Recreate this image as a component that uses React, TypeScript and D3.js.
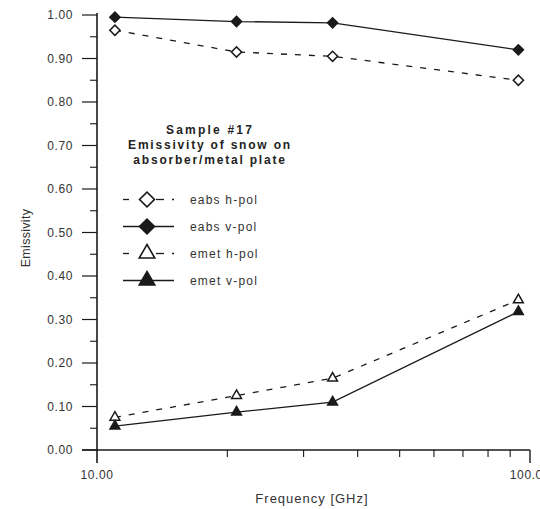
import * as d3 from "d3";

const FREQS = [11, 21, 35, 94];
const EABS_H = [0.965, 0.915, 0.905, 0.85];
const EABS_V = [0.995, 0.985, 0.982, 0.92];
const EMET_H = [0.075, 0.125, 0.165, 0.345];
const EMET_V = [0.055, 0.087, 0.11, 0.318];

const Y_TICKS = [0, 0.1, 0.2, 0.3, 0.4, 0.5, 0.6, 0.7, 0.8, 0.9, 1.0];
const Y_MINOR = [0.05, 0.15, 0.25, 0.35, 0.45, 0.55, 0.65, 0.75, 0.85, 0.95];
const X_MINOR = [20, 30, 40, 50, 60, 70, 80, 90];
const X_LABELS = [10, 100];

const TITLE = ["Sample #17", "Emissivity of snow on", "absorber/metal plate"];

const SERIES = [
  { name: "eabs h-pol", values: EABS_H, shape: "diamond", filled: false, dashed: true },
  { name: "eabs v-pol", values: EABS_V, shape: "diamond", filled: true, dashed: false },
  { name: "emet h-pol", values: EMET_H, shape: "triangle", filled: false, dashed: true },
  { name: "emet v-pol", values: EMET_V, shape: "triangle", filled: true, dashed: false },
];

const INK = "#1a1a1a";
const FONT = "'Liberation Sans', Arial, Helvetica, sans-serif";

function markerPath(shape: string, big: boolean) {
  if (shape === "diamond") {
    return d3.symbol(d3.symbolSquare, big ? 112 : 52)() as string;
  }
  return d3.symbol(d3.symbolTriangle, big ? 105 : 42)() as string;
}

export default function App() {
  const W = 540, H = 509;
  const x = d3.scaleLog().domain([10, 100]).range([97, 530]);
  const y = d3.scaleLinear().domain([0, 1]).range([450, 15]);

  const line = d3
    .line<number>()
    .x((_, i) => x(FREQS[i]))
    .y((v) => y(v));

  const legendY = d3.scaleBand<string>()
    .domain(SERIES.map((s) => s.name))
    .range([186, 294]);

  return (
    <svg
      width={W}
      height={H}
      viewBox={`0 0 ${W} ${H}`}
      style={{ position: "absolute", left: 0, top: 0, background: "#fff" }}
      fontFamily={FONT}
    >
      {/* axes */}
      <line x1={97} x2={97} y1={13} y2={463} stroke={INK} strokeWidth={1.6} />
      <line x1={82} x2={530} y1={450} y2={450} stroke={INK} strokeWidth={1.4} />
      <line x1={530} x2={530} y1={450} y2={463} stroke={INK} strokeWidth={1.4} />

      {Y_TICKS.map((t) => (
        <g key={"yt" + t}>
          <line x1={82} x2={97} y1={y(t)} y2={y(t)} stroke={INK} strokeWidth={1.2} />
          <text
            x={73}
            y={y(t)}
            dy="0.36em"
            textAnchor="end"
            fontSize={12}
            letterSpacing={0.6}
            fill="#333"
          >
            {d3.format(".2f")(t)}
          </text>
        </g>
      ))}
      {Y_MINOR.map((t) => (
        <line key={"ym" + t} x1={90} x2={97} y1={y(t)} y2={y(t)} stroke={INK} strokeWidth={1.1} />
      ))}
      {X_MINOR.map((t) => (
        <line key={"xm" + t} x1={x(t)} x2={x(t)} y1={450} y2={457} stroke={INK} strokeWidth={1.1} />
      ))}
      {X_LABELS.map((t) => (
        <text
          key={"xl" + t}
          x={x(t)}
          y={475}
          dy="0.36em"
          textAnchor="middle"
          fontSize={12}
          letterSpacing={0.6}
          fill="#333"
        >
          {d3.format(".2f")(t)}
        </text>
      ))}

      <text
        x={312}
        y={498}
        dy="0.36em"
        textAnchor="middle"
        fontSize={13}
        letterSpacing={1}
        fill="#333"
      >
        Frequency [GHz]
      </text>
      <text
        transform={`translate(25,238) rotate(-90)`}
        dy="0.36em"
        textAnchor="middle"
        fontSize={12.5}
        letterSpacing={0.3}
        fill="#333"
      >
        Emissivity
      </text>

      {/* series */}
      {SERIES.map((s) => (
        <g key={s.name}>
          <path
            d={line(s.values) as string}
            fill="none"
            stroke={INK}
            strokeWidth={1.3}
            strokeDasharray={s.dashed ? "6,8" : undefined}
          />
          {s.values.map((v, i) => (
            <path
              key={i}
              d={markerPath(s.shape, false)}
              transform={`translate(${x(FREQS[i])},${y(v)})${s.shape === "diamond" ? " rotate(45)" : ""}`}
              fill={s.filled ? INK : "#fff"}
              stroke={INK}
              strokeWidth={1.5}
            />
          ))}
        </g>
      ))}

      {/* title */}
      {TITLE.map((t, i) => (
        <text
          key={t}
          x={210}
          y={130 + i * 15}
          dy="0.36em"
          textAnchor="middle"
          fontSize={12}
          fontWeight="bold"
          letterSpacing={i === 0 ? 2.2 : 1.8}
          fill="#222"
        >
          {t}
        </text>
      ))}

      {/* legend */}
      {SERIES.map((s) => {
        const cy = (legendY(s.name) as number) + legendY.bandwidth() / 2;
        return (
          <g key={"lg" + s.name}>
            {s.dashed ? (
              <>
                <line x1={123} x2={129} y1={cy} y2={cy} stroke={INK} strokeWidth={1.3} />
                <line x1={156} x2={164} y1={cy} y2={cy} stroke={INK} strokeWidth={1.3} />
                <line x1={172} x2={174} y1={cy} y2={cy} stroke={INK} strokeWidth={1.3} />
              </>
            ) : (
              <line x1={123} x2={174} y1={cy} y2={cy} stroke={INK} strokeWidth={1.3} />
            )}
            <path
              d={markerPath(s.shape, true)}
              transform={`translate(147,${cy})${s.shape === "diamond" ? " rotate(45)" : ""}`}
              fill={s.filled ? INK : "#fff"}
              stroke={INK}
              strokeWidth={1.6}
            />
            <text
              x={190}
              y={cy}
              dy="0.36em"
              fontSize={12}
              letterSpacing={1.2}
              fill="#333"
            >
              {s.name}
            </text>
          </g>
        );
      })}
    </svg>
  );
}
